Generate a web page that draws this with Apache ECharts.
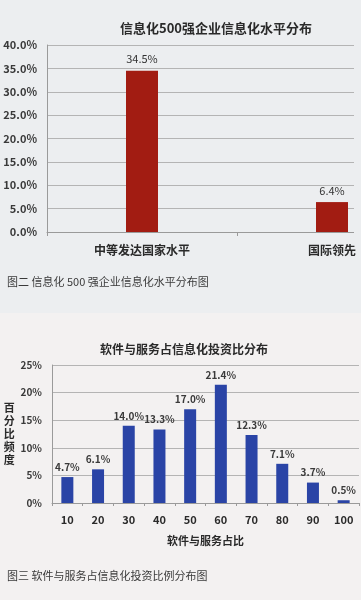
<!DOCTYPE html>
<html><head><meta charset="utf-8">
<script src="https://cdn.jsdelivr.net/npm/echarts@6/dist/echarts.min.js"></script>
<style>html,body{margin:0;padding:0;background:#f3f1f1;}#c{width:361px;height:600px;}</style>
</head><body><div id="c"></div>
<script>
const cats1 = ['中等发达国家水平', '国际领先'];
const vals1 = [34.5, 6.4];
const cats2 = ['10', '20', '30', '40', '50', '60', '70', '80', '90', '100'];
const vals2 = [4.7, 6.1, 14.0, 13.3, 17.0, 21.4, 12.3, 7.1, 3.7, 0.5];
const title1 = '信息化500强企业信息化水平分布';
const title2 = '软件与服务占信息化投资比分布';
const caption1 = '图二 信息化 500 强企业信息化水平分布图';
const caption2 = '图三 软件与服务占信息化投资比例分布图';
const xName2 = '软件与服务占比';
const yName2 = '百\n分\n比\n频\n度';

const F = '"Noto Sans CJK SC", "Noto Sans", sans-serif';
const chart = echarts.init(document.getElementById('c'), null, {renderer: 'canvas'});
chart.setOption({
  backgroundColor: '#f3f1f1',
  animation: false,
  textStyle: {fontFamily: F},
  graphic: [
    {type: 'rect', z: -10, shape: {x: 0, y: 0, width: 361, height: 313}, style: {fill: '#eceef0'}},
    {type: 'rect', z: 100, shape: {x: 354, y: 38, width: 7, height: 200}, style: {fill: '#eceef0'}},
    {type: 'text', left: 7, top: 276, style: {text: caption1, font: '11px ' + F, fill: '#3a3a3a'}},
    {type: 'text', left: 7, top: 570, style: {text: caption2, font: '11px ' + F, fill: '#3a3a3a'}}
  ],
  title: [
    {text: title1, left: 115, top: 17,
     textStyle: {fontSize: 13, fontWeight: 'bold', color: '#2a2a2a', fontFamily: F}},
    {text: title2, left: 95, top: 338,
     textStyle: {fontSize: 12, fontWeight: 'bold', color: '#2a2a2a', fontFamily: F}}
  ],
  grid: [
    {left: 47, width: 380, top: 45, height: 187, outerBoundsMode: 'none', containLabel: false},
    {left: 52, right: 2, top: 365, bottom: 97, outerBoundsMode: 'none', containLabel: false}
  ],
  xAxis: [
    {type: 'category', gridIndex: 0, data: cats1,
     axisLine: {lineStyle: {color: '#9a9a9a'}},
     axisTick: {show: true, length: 4, lineStyle: {color: '#9a9a9a'}},
     axisLabel: {margin: 12, fontSize: 12, fontWeight: 'bold', color: '#2a2a2a', fontFamily: F}},
    {type: 'category', gridIndex: 1, data: cats2, name: xName2, nameLocation: 'middle', nameGap: 32,
     nameTextStyle: {fontSize: 11, fontWeight: 'bold', color: '#2a2a2a', fontFamily: F},
     axisLine: {lineStyle: {color: '#9a9a9a'}},
     axisTick: {show: true, length: 3, lineStyle: {color: '#9a9a9a'}},
     axisLabel: {margin: 11, fontSize: 11, fontWeight: 'bold', color: '#2a2a2a', fontFamily: F}}
  ],
  yAxis: [
    {type: 'value', gridIndex: 0, min: 0, max: 40, interval: 5,
     axisLine: {show: true, lineStyle: {color: '#9a9a9a'}},
     axisTick: {show: false},
     splitLine: {lineStyle: {color: '#b4b4b4'}},
     axisLabel: {margin: 10, fontSize: 11, fontWeight: 'bold', color: '#3a3a3a', fontFamily: F,
       formatter: v => v.toFixed(1) + '%'}},
    {type: 'value', gridIndex: 1, min: 0, max: 25, interval: 5,
     name: yName2, nameLocation: 'middle', nameRotate: 0, nameGap: 33,
     nameTextStyle: {fontSize: 11, fontWeight: 'bold', color: '#2a2a2a', lineHeight: 13, fontFamily: F},
     axisLine: {show: true, lineStyle: {color: '#9a9a9a'}},
     axisTick: {show: false},
     splitLine: {lineStyle: {color: '#b4b4b4'}},
     axisLabel: {margin: 10, fontSize: 10, fontWeight: 'bold', color: '#3a3a3a', fontFamily: F,
       formatter: v => v + '%'}}
  ],
  series: [
    {type: 'bar', xAxisIndex: 0, yAxisIndex: 0, data: vals1, barWidth: 32,
     itemStyle: {color: '#a21c12'},
     label: {show: true, position: 'top', distance: 6, fontSize: 11, color: '#333', fontFamily: F,
       formatter: p => p.value.toFixed(1) + '%'}},
    {type: 'bar', xAxisIndex: 1, yAxisIndex: 1, data: vals2, barWidth: 12,
     itemStyle: {color: '#2a44a6'},
     label: {show: true, position: 'top', distance: 5, fontSize: 10, fontWeight: 'bold', color: '#3a3a3a', fontFamily: F,
       formatter: p => p.value.toFixed(1) + '%'}}
  ]
});
</script></body></html>
